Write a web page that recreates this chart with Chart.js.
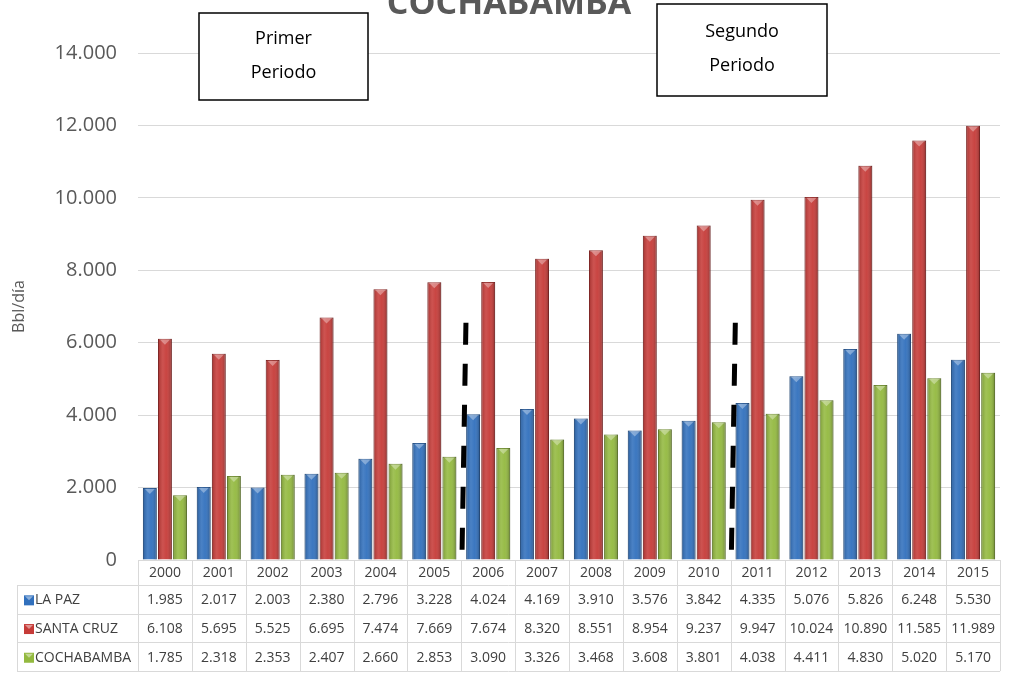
<!DOCTYPE html>
<html>
<head>
<meta charset="utf-8">
<script src="https://cdn.jsdelivr.net/npm/chart.js@4/dist/chart.umd.min.js"></script>
<style>
  html, body { margin: 0; padding: 0; background: #fff; }
  canvas { display: block; }
</style>
</head>
<body>
<canvas id="chart" width="1017" height="679"></canvas>
<script>
"use strict";
const years = ["2000", "2001", "2002", "2003", "2004", "2005", "2006", "2007",
    "2008", "2009", "2010", "2011", "2012", "2013", "2014", "2015"];
const laPaz = [1985, 2017, 2003, 2380, 2796, 3228, 4024, 4169, 3910, 3576, 3842, 4335, 5076, 5826, 6248, 5530];
const santaCruz = [6108, 5695, 5525, 6695, 7474, 7669, 7674, 8320, 8551, 8954, 9237, 9947, 10024, 10890, 11585, 11989];
const cochabamba = [1785, 2318, 2353, 2407, 2660, 2853, 3090, 3326, 3468, 3608, 3801, 4038, 4411, 4830, 5020, 5170];
const seriesNames = ["LA PAZ", "SANTA CRUZ", "COCHABAMBA"];
const chartTitle = "COCHABAMBA";
const yTitle = "Bbl/día";
const periods = ["Primer|Periodo", "Segundo|Periodo"];

const FONT = "'Open Sans', sans-serif";

function fmt(v) {
    return String(v).replace(/\B(?=(\d{3})+(?!\d))/g, ".");
}

// title, period boxes, dashed separators and data table
const extras = {
    id: "extras",
    afterDatasetsDraw(chart) {
        const ctx = chart.ctx;
        const x = chart.scales.x;
        const y = chart.scales.y;
        // fake 3d shading on bars
        chart.data.datasets.forEach((ds, di) => {
            chart.getDatasetMeta(di).data.forEach((bar) => {
                const l = bar.x - bar.width / 2, w = bar.width, t = bar.y, h = bar.base - bar.y;
                const g = ctx.createLinearGradient(l, 0, l + w, 0);
                g.addColorStop(0, "rgba(0,0,0,0.18)");
                g.addColorStop(0.35, "rgba(255,255,255,0.12)");
                g.addColorStop(0.6, "rgba(255,255,255,0.05)");
                g.addColorStop(1, "rgba(0,0,0,0.28)");
                ctx.save();
                ctx.fillStyle = g;
                ctx.fillRect(l, t, w, h);
                ctx.fillStyle = "rgba(255,255,255,0.35)";
                ctx.beginPath();
                ctx.moveTo(l + 2, t + 1);
                ctx.lineTo(l + w - 2, t + 1);
                ctx.lineTo(l + w / 2, t + 6);
                ctx.closePath();
                ctx.fill();
                ctx.restore();
            });
        });

        // dashed period separators
        ctx.save();
        ctx.strokeStyle = "#000";
        ctx.lineWidth = 5;
        ctx.setLineDash([22, 19]);
        [5.55, 10.55].forEach((v) => {
            const px = x.getPixelForValue(v);
            ctx.beginPath();
            ctx.moveTo(px + 2, y.getPixelForValue(6550));
            ctx.lineTo(px - 2, y.getPixelForValue(0) - 3);
            ctx.stroke();
        });
        ctx.restore();
    },
    afterDraw(chart) {
        const ctx = chart.ctx;
        const x = chart.scales.x;
        ctx.save();
        // title
        ctx.fillStyle = "#595959";
        ctx.font = "bold 34px " + FONT;
        ctx.textAlign = "center";
        ctx.textBaseline = "alphabetic";
        ctx.fillText(chartTitle, 509, 14);

        // period boxes
        const boxes = [[199, 13, 169, 87], [657, 4, 170, 92]];
        periods.forEach((p, i) => {
            const b = boxes[i];
            ctx.fillStyle = "#fff";
            ctx.fillRect(b[0], b[1], b[2], b[3]);
            ctx.strokeStyle = "#000";
            ctx.lineWidth = 1.5;
            ctx.strokeRect(b[0], b[1], b[2], b[3]);
            ctx.fillStyle = "#000";
            ctx.font = "18px " + FONT;
            ctx.textBaseline = "middle";
            const lines = p.split("|");
            ctx.fillText(lines[0], b[0] + b[2] / 2, b[1] + b[3] / 2 - 18);
            ctx.fillText(lines[1], b[0] + b[2] / 2, b[1] + b[3] / 2 + 16);
        });

        // data table
        const rows = [laPaz, santaCruz, cochabamba];
        const colors = chart.data.datasets.map((d) => d.backgroundColor);
        const top = 560, headH = 25, rowH = 28.7;
        const tLeft = 17;
        const first = x.getPixelForValue(-0.5);
        const last = x.getPixelForValue(years.length - 0.5);
        const bottom = top + headH + rowH * rows.length;
        ctx.strokeStyle = "#d9d9d9";
        ctx.lineWidth = 1;
        ctx.beginPath();
        ctx.moveTo(first, top + 0.5);
        ctx.lineTo(last, top + 0.5);
        for (let r = 0; r <= rows.length; r++) {
            const yy = Math.round(top + headH + r * rowH) + 0.5;
            ctx.moveTo(tLeft, yy);
            ctx.lineTo(last, yy);
        }
        for (let i = 0; i <= years.length; i++) {
            const xx = Math.round(x.getPixelForValue(i - 0.5)) + 0.5;
            ctx.moveTo(xx, top);
            ctx.lineTo(xx, bottom);
        }
        ctx.moveTo(tLeft + 0.5, top + headH);
        ctx.lineTo(tLeft + 0.5, bottom);
        ctx.stroke();

        ctx.fillStyle = "#404040";
        ctx.font = "14px " + FONT;
        ctx.textAlign = "center";
        ctx.textBaseline = "middle";
        years.forEach((yr, i) => {
            ctx.fillText(yr, x.getPixelForValue(i), top + headH / 2 + 1);
        });
        rows.forEach((row, r) => {
            const cy = top + headH + r * rowH + rowH / 2 + 1;
            row.forEach((v, i) => {
                ctx.fillStyle = "#404040";
                ctx.fillText(fmt(v), x.getPixelForValue(i), cy);
            });
            ctx.fillStyle = colors[r];
            ctx.fillRect(tLeft + 7, cy - 5, 10, 10);
            ctx.fillStyle = "rgba(255,255,255,0.45)";
            ctx.beginPath();
            ctx.moveTo(tLeft + 8, cy - 4);
            ctx.lineTo(tLeft + 16, cy - 4);
            ctx.lineTo(tLeft + 12, cy);
            ctx.closePath();
            ctx.fill();
            ctx.fillStyle = "#404040";
            ctx.textAlign = "left";
            ctx.fillText(seriesNames[r], tLeft + 18, cy);
            ctx.textAlign = "center";
        });
        ctx.restore();
    }
};

new Chart(document.getElementById("chart").getContext("2d"), {
    type: "bar",
    data: {
        labels: years,
        datasets: [
            { label: seriesNames[0], data: laPaz, backgroundColor: "#3170BD", borderColor: "#245592", borderWidth: 1 },
            { label: seriesNames[1], data: santaCruz, backgroundColor: "#C63B38", borderColor: "#952B29", borderWidth: 1 },
            { label: seriesNames[2], data: cochabamba, backgroundColor: "#93B93F", borderColor: "#6E8C2D", borderWidth: 1 },
        ],
    },
    options: {
        responsive: false,
        animation: false,
        layout: { padding: { top: 53, left: 10, right: 17, bottom: 111 } },
        plugins: {
            legend: { display: false },
            tooltip: { enabled: false },
        },
        datasets: {
            bar: { categoryPercentage: 0.84, barPercentage: 0.92 },
        },
        scales: {
            x: {
                ticks: { display: false },
                grid: { display: false },
                border: { display: false },
            },
            y: {
                min: 0,
                max: 14000,
                afterFit: (s) => { s.width = 128; },
                ticks: {
                    stepSize: 2000,
                    padding: 21,
                    color: "#595959",
                    font: { family: FONT, size: 20 },
                    callback: (v) => fmt(v),
                },
                grid: { color: "#d9d9d9", drawTicks: false },
                border: { display: false },
                title: {
                    display: true,
                    text: yTitle,
                    color: "#595959",
                    font: { family: FONT, size: 16 },
                    padding: 0,
                },
            },
        },
    },
    plugins: [extras],
});
</script>
</body>
</html>
